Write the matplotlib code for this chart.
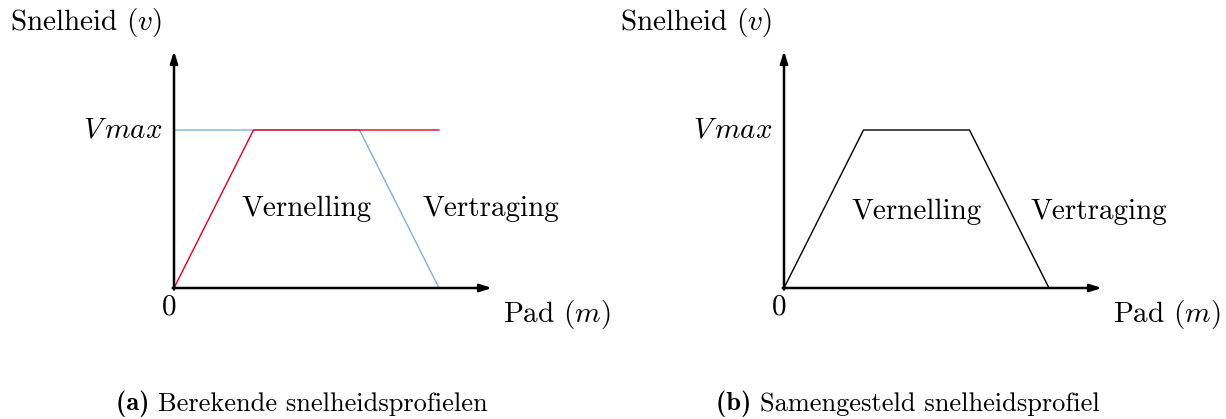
"""Snelheidsprofielen: berekend (vernelling/vertraging) en samengesteld."""

import matplotlib

matplotlib.use("Agg")
import matplotlib.pyplot as plt

plt.rcParams["font.family"] = "cmr10"
plt.rcParams["mathtext.fontset"] = "cm"
plt.rcParams["axes.unicode_minus"] = False

# Path positions (arbitrary units) and speeds relative to Vmax
VMAX = 1.0
ACCEL_PATH = [0.0, 3.0, 10.0]
ACCEL_SPEED = [0.0, VMAX, VMAX]
DECEL_PATH = [0.0, 7.0, 10.0]
DECEL_SPEED = [VMAX, VMAX, 0.0]
COMBINED_PATH = [0.0, 3.0, 7.0, 10.0]
COMBINED_SPEED = [0.0, VMAX, VMAX, 0.0]
X_AXIS_END = 12.0
Y_AXIS_END = 1.5

Y_LABEL = "Snelheid ($v$)"
X_LABEL = "Pad ($m$)"
VMAX_LABEL = r"$V\,max$"
CAPTION_TAGS = ["(a)", "(b)"]
CAPTION_TEXTS = ["Berekende snelheidsprofielen", "Samengesteld snelheidsprofiel"]

RED = "#e8001c"
BLUE = "#7fb2d6"

W, H = 1226, 419
fig = plt.figure(figsize=(W / 100, H / 100), dpi=100)
FS = 21


def make_axes(origin_px):
    """Axes whose data origin sits at the given pixel position."""
    x0, y0 = origin_px
    ax = fig.add_axes([x0 / W, (H - y0) / H, 318 / W, 237 / H])
    ax.set_xlim(0, X_AXIS_END)
    ax.set_ylim(0, Y_AXIS_END)
    ax.axis("off")
    arrow = dict(arrowstyle="-|>,head_length=0.7,head_width=0.22",
                 lw=1.8, color="black", shrinkA=0, shrinkB=0)
    ax.annotate("", xy=(X_AXIS_END, 0), xytext=(-0.05, 0),
                arrowprops=arrow, annotation_clip=False)
    ax.annotate("", xy=(0, Y_AXIS_END), xytext=(0, -0.01),
                arrowprops=arrow, annotation_clip=False)

    ax.text(-0.45, VMAX, VMAX_LABEL, ha="right", va="center", fontsize=FS)
    ax.text(-0.2, -0.04, "0", ha="center", va="top", fontsize=FS)
    ax.text(-6.2, 1.68, Y_LABEL, ha="left", va="center", fontsize=FS)
    ax.text(12.4, -0.165, X_LABEL, ha="left", va="center", fontsize=FS)
    return ax


def caption(x_px, tag, text):
    """Caption with a bold tag followed by regular text, centred at x_px."""
    y = 1 - 404 / H
    t = fig.text(0, y, tag + " ", fontsize=19, family="cmb10", va="center")
    r = fig.text(0, y, text, fontsize=19, va="center")
    renderer = fig.canvas.get_renderer()
    w_tag = t.get_window_extent(renderer).width
    w_txt = r.get_window_extent(renderer).width
    left = x_px - (w_tag + w_txt) / 2
    t.set_x(left / W)
    r.set_x((left + w_tag) / W)


ax_a = make_axes((174, 288))
ax_a.plot(DECEL_PATH, DECEL_SPEED, color=BLUE, lw=1.0, clip_on=False)
ax_a.plot(ACCEL_PATH, ACCEL_SPEED, color=RED, lw=1.0, clip_on=False)
ax_a.text(5.0, 0.5, "Vernelling", ha="center", va="center", fontsize=FS)
ax_a.text(11.95, 0.5, "Vertraging", ha="center", va="center", fontsize=FS)

ax_b = make_axes((784, 288))
ax_b.plot(COMBINED_PATH, COMBINED_SPEED, color="black", lw=1.0, clip_on=False)
ax_b.text(5.0, 0.48, "Vernelling", ha="center", va="center", fontsize=FS)
ax_b.text(11.9, 0.48, "Vertraging", ha="center", va="center", fontsize=FS)

caption(302, CAPTION_TAGS[0], CAPTION_TEXTS[0])
caption(908, CAPTION_TAGS[1], CAPTION_TEXTS[1])

fig.savefig("out.png", dpi=100)
